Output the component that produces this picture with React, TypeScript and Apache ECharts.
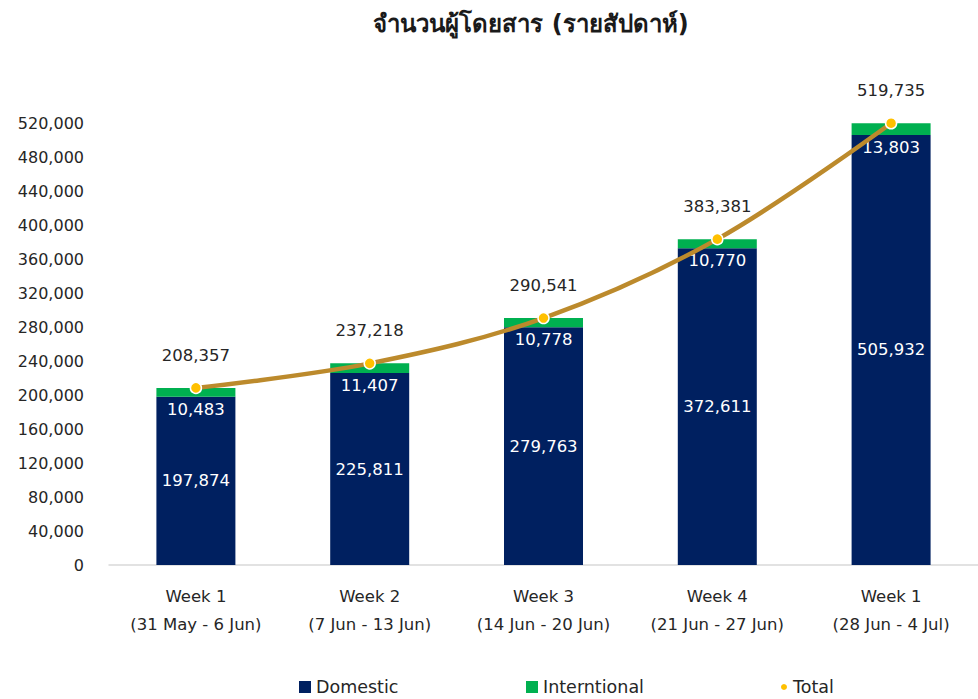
import React, { useEffect, useRef } from "react";
import * as echarts from "echarts";

const weeks = ["Week 1", "Week 2", "Week 3", "Week 4", "Week 1"];
const ranges = ["(31 May - 6 Jun)", "(7 Jun - 13 Jun)", "(14 Jun - 20 Jun)", "(21 Jun - 27 Jun)", "(28 Jun - 4 Jul)"];
const domestic = [197874, 225811, 279763, 372611, 505932];
const international = [10483, 11407, 10778, 10770, 13803];
const total = [208357, 237218, 290541, 383381, 519735];

const FONT = "Tahoma, 'DejaVu Sans', 'Noto Sans', sans-serif";
const fmt = (v: number) => v.toLocaleString("en-US");

export default function App() {
  const ref = useRef<HTMLDivElement>(null);
  useEffect(() => {
    const chart = echarts.init(ref.current!, null, { renderer: "svg" });
    const categories = weeks.map((w, i) => w + "\n" + ranges[i]);
    chart.setOption({
      animation: false,
      textStyle: { fontFamily: FONT },
      title: {
        text: "จำนวนผู้โดยสาร (รายสัปดาห์)",
        left: 526,
        top: 7,
        textAlign: "center",
        textStyle: { fontSize: 24, fontWeight: "bold", color: "#1a1a1a", fontFamily: FONT },
      },
      legend: [
        {
          data: [{ name: "Domestic", icon: "rect" }],
          left: 294, top: 673, itemWidth: 12, itemHeight: 12, itemGap: 8,
          textStyle: { fontSize: 17.5, color: "#262626", fontFamily: FONT },
        },
        {
          data: [{ name: "Interntional", icon: "rect" }],
          left: 521, top: 673, itemWidth: 12, itemHeight: 12, itemGap: 8,
          textStyle: { fontSize: 17.5, color: "#262626", fontFamily: FONT },
        },
        {
          data: [{ name: "Total", icon: "circle" }],
          left: 774, top: 673, itemWidth: 8, itemHeight: 8, itemGap: 8,
          textStyle: { fontSize: 17.5, color: "#262626", fontFamily: FONT },
        },
      ],
      grid: { left: 109, width: 873, top: 123, bottom: 134, containLabel: false },
      xAxis: {
        type: "category",
        data: categories,
        axisLine: { lineStyle: { color: "#d9d9d9", width: 1.5 } },
        axisTick: { show: false },
        axisLabel: {
          color: "#262626",
          fontSize: 16.5,
          lineHeight: 28,
          margin: 17,
          fontFamily: FONT,
        },
      },
      yAxis: {
        type: "value",
        min: 0,
        max: 520000,
        interval: 40000,
        splitLine: { show: false },
        axisLine: { show: false },
        axisTick: { show: false },
        axisLabel: {
          color: "#262626",
          fontSize: 16,
          margin: 25,
          fontFamily: FONT,
          formatter: (v: number) => fmt(v),
        },
      },
      series: [
        {
          name: "Domestic",
          type: "bar",
          stack: "pax",
          data: domestic,
          barWidth: 79,
          itemStyle: { color: "#002060" },
          label: {
            show: true,
            position: "inside",
            color: "#ffffff",
            fontSize: 16.5,
            fontFamily: FONT,
            formatter: (p: any) => fmt(p.value),
          },
        },
        {
          name: "Interntional",
          type: "bar",
          stack: "pax",
          data: international,
          barWidth: 79,
          itemStyle: { color: "#00B050" },
          label: {
            show: true,
            position: "bottom",
            distance: 4,
            color: "#ffffff",
            fontSize: 16.5,
            fontFamily: FONT,
            formatter: (p: any) => fmt(p.value),
          },
        },
        {
          name: "Total",
          type: "line",
          data: total,
          smooth: 0.35,
          symbol: "circle",
          symbolSize: 11,
          z: 5,
          lineStyle: { color: "#BC8A2C", width: 4.5 },
          itemStyle: { color: "#FFC000", borderColor: "#ffffff", borderWidth: 1.5 },
          label: {
            show: true,
            position: "top",
            distance: 18,
            color: "#262626",
            fontSize: 16.5,
            fontFamily: FONT,
            formatter: (p: any) => fmt(p.value),
          },
        },
      ],
    });
    return () => chart.dispose();
  }, []);
  return <div ref={ref} style={{ width: 978, height: 699, position: "absolute", left: 0, top: 0 }} />;
}
